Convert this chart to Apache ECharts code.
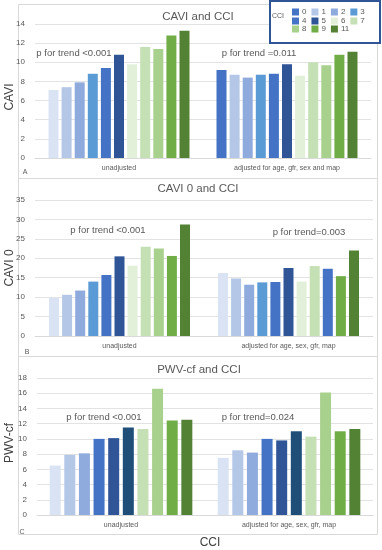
<!DOCTYPE html>
<html><head><meta charset="utf-8">
<script src="https://cdn.jsdelivr.net/npm/echarts@6/dist/echarts.min.js"></script>
<style>html,body{margin:0;padding:0;background:#fff;}#c{width:382px;height:550px;}</style>
</head><body><div id="c"></div>
<script>
// ---- data ----
const cciLevels = ['0','1','2','3','4','5','6','7','8','9','11'];
const catsA = ['unadjusted', 'adjusted for age, gfr, sex and map'];
const catsB = ['unadjusted', 'adjusted for age, sex, gfr, map'];
const catsC = ['unadjusted', 'adjusted for age, sex, gfr, map'];
const caviUnadj = [7.1, 7.4, 7.9, 8.8, 9.4, 10.8, 9.8, 11.6, 11.4, 12.8, 13.3];
const caviAdj   = [9.2, 8.7, 8.4, 8.7, 8.8, 9.8, 8.6, 10.0, 9.7, 10.8, 11.1];
const cavi0Unadj = [9.8, 10.6, 11.7, 14.0, 15.7, 20.5, 18.1, 23.0, 22.5, 20.6, 28.7];
const cavi0Adj   = [16.2, 14.8, 13.2, 13.8, 13.9, 17.5, 14.0, 18.0, 17.3, 15.4, 22.0];
const pwvLevels = ['c0','c1','c2','c3','c4','c5','c6','c7','c8','c9'];
const pwvUnadj = [6.5, 7.9, 8.1, 10.0, 10.1, 11.5, 11.3, 16.6, 12.4, 12.5];
const pwvAdj   = [7.5, 8.5, 8.2, 10.0, 9.8, 11.0, 10.3, 16.1, 11.0, 11.3];
const ticksA = {min: 0, max: 14, interval: 2};
const ticksB = {min: 0, max: 35, interval: 5};
const ticksC = {min: 0, max: 18, interval: 2};

// ---- styles ----
const colA_un  = ['#dae3f3','#b4c7e7','#8faadc','#5b9bd5','#4472c4','#2f5597','#e2f0d9','#c5e0b4','#a9d18e','#70ad47','#548235'];
const colA_adj = ['#4472c4','#b4c7e7','#8faadc','#5b9bd5','#4472c4','#2f5597','#e2f0d9','#c5e0b4','#a9d18e','#70ad47','#548235'];
const colB_un  = colA_un;
const colB_adj = ['#dae3f3','#b4c7e7','#8faadc','#5b9bd5','#4472c4','#2f5597','#e2f0d9','#c5e0b4','#4472c4','#70ad47','#548235'];
const colC     = ['#dae3f3','#b4c7e7','#8faadc','#4472c4','#2f5597','#1f4e79','#c5e0b4','#a9d18e','#70ad47','#548235'];

const FONT = 'Liberation Sans';
const grids = [
  {left: 35, width: 336, top: 24, height: 134},
  {left: 35, width: 338, top: 200, height: 136},
  {left: 37, width: 336, top: 378, height: 137}
];
function xAx(i, cats){
  return {type:'category', gridIndex:i, data:cats,
    axisLine:{lineStyle:{color:'#d9d9d9'}}, axisTick:{show:false},
    axisLabel:{fontSize:7, color:'#595959', margin:7, fontFamily:FONT}};
}
function yAx(i, t){
  return {type:'value', gridIndex:i, min:t.min, max:t.max, interval:t.interval,
    axisLine:{show:false}, axisTick:{show:false},
    axisLabel:{fontSize:8, color:'#595959', margin:10, fontFamily:FONT},
    splitLine:{lineStyle:{color:'#e3e3e3'}}};
}
const series = [];
cciLevels.forEach((n,i)=>{
  series.push({type:'bar', name:n, xAxisIndex:0, yAxisIndex:0, barWidth:10, barGap:'31%',
    itemStyle:{color:colA_adj[i]},
    data:[{value:caviUnadj[i], itemStyle:{color:colA_un[i]}}, {value:caviAdj[i], itemStyle:{color:colA_adj[i]}}]});
});
cciLevels.forEach((n,i)=>{
  series.push({type:'bar', name:'B'+n, xAxisIndex:1, yAxisIndex:1, barWidth:10, barGap:'31%',
    data:[{value:cavi0Unadj[i], itemStyle:{color:colB_un[i]}}, {value:cavi0Adj[i], itemStyle:{color:colB_adj[i]}}]});
});
pwvLevels.forEach((n,i)=>{
  series.push({type:'bar', name:n, xAxisIndex:2, yAxisIndex:2, barWidth:11, barGap:'33%',
    data:[{value:pwvUnadj[i], itemStyle:{color:colC[i]}}, {value:pwvAdj[i], itemStyle:{color:colC[i]}}]});
});

function txt(x,y,s,size){
  return {type:'text', x:x, y:y, z:5,
    style:{text:s, fontSize:size, fill:'#595959', fontFamily:FONT, align:'center', verticalAlign:'middle'}};
}
function rtxt(x,y,s){
  return {type:'text', x:x, y:y, rotation:Math.PI/2, z:5,
    style:{text:s, fontSize:12, fill:'#404040', fontFamily:FONT, align:'center', verticalAlign:'middle'}};
}
function box(x,y,w,h){
  return {type:'rect', shape:{x:x,y:y,width:w,height:h}, z:-1, style:{fill:'none', stroke:'#d9d9d9', lineWidth:1}};
}
const legStyle = {itemWidth:7, itemHeight:7, itemGap:5, icon:'rect', textStyle:{fontSize:8, color:'#595959', fontFamily:FONT, padding:[0,0,0,-2]}, padding:0, selectedMode:false};

const option = {
  animation:false,
  grid: grids,
  xAxis: [xAx(0,catsA), xAx(1,catsB), xAx(2,catsC)],
  yAxis: [yAx(0,ticksA), yAx(1,ticksB), yAx(2,ticksC)],
  legend: [
    Object.assign({data:['0','1','2','3'], left:292, top:8}, legStyle),
    Object.assign({data:['4','5','6','7'], left:292, top:17}, legStyle),
    Object.assign({data:['8','9','11'], left:292, top:25}, legStyle)
  ],
  graphic: [
    box(18.5,4.5,359,174),
    box(18.5,178.5,359,178),
    box(18.5,356.5,359,178),
    {type:'rect', shape:{x:270,y:1,width:110,height:42}, z:3, style:{fill:'#fff', stroke:'#2f5597', lineWidth:2}},
    txt(278,16,'CCI',7),
    txt(198,17,'CAVI and CCI',11.5),
    txt(198,189,'CAVI 0 and CCI',11.5),
    txt(199,370,'PWV-cf and CCI',11.5),
    txt(74,53,'p for trend <0.001',9.5),
    txt(259,53,'p for trend =0.011',9.5),
    txt(108,230,'p for trend <0.001',9.5),
    txt(309,232,'p for trend=0.003',9.5),
    txt(104,417,'p for trend <0.001',9.5),
    txt(258,417,'p for trend=0.024',9.5),
    txt(25,172,'A',7),
    txt(27,352,'B',7),
    txt(22,532,'C',7),
    rtxt(10,97,'CAVI'),
    rtxt(10,268,'CAVI 0'),
    rtxt(10,443,'PWV-cf'),
    {type:'text', x:210, y:543, z:5, style:{text:'CCI', fontSize:12, fill:'#404040', fontFamily:FONT, align:'center', verticalAlign:'middle'}}
  ],
  series: series
};
const chart = echarts.init(document.getElementById('c'), null, {renderer:'canvas'});
chart.setOption(option);
</script></body></html>
